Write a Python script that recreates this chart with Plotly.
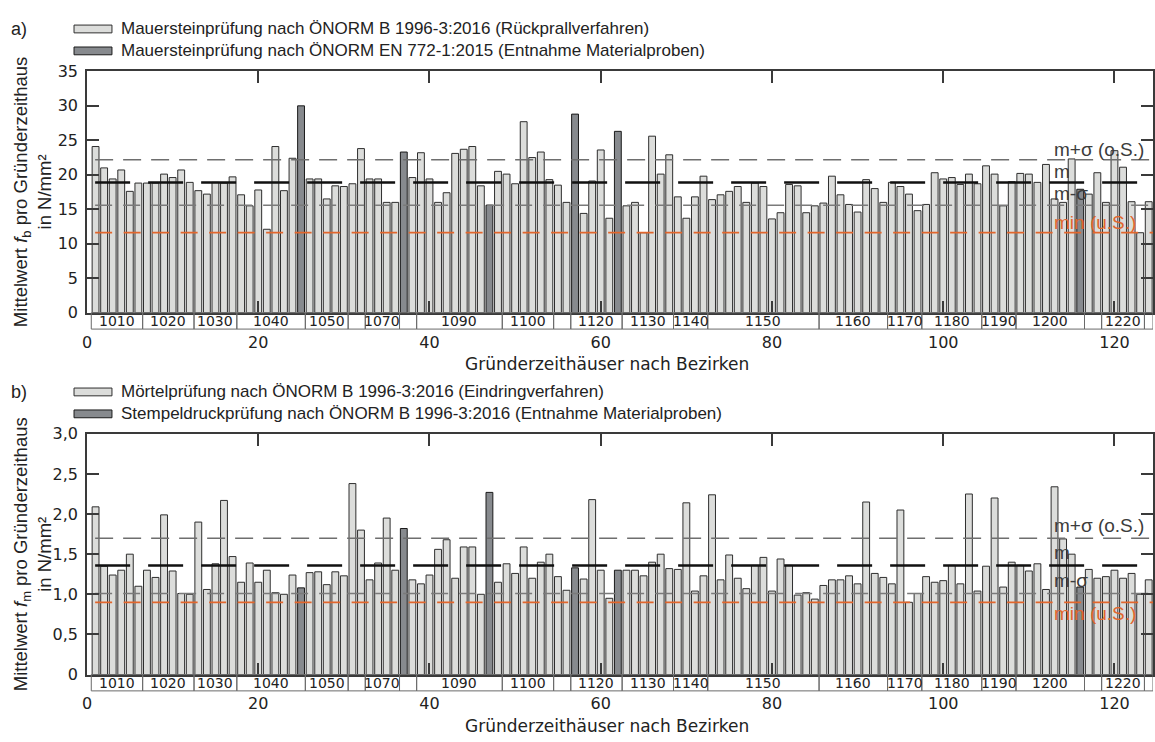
import plotly.graph_objects as go

W, H = 1155, 742
ML, MR = 87, 0
FONT = "Liberation Sans, Arial, sans-serif"
WIDE = "DejaVu Sans, sans-serif"

# ---------------- data ----------------
houses = list(range(1, 125))

districts = ["1010", "1020", "1030", "1040", "1050", "1060", "1070", "1080", "1090", "1100",
             "1110", "1120", "1130", "1140", "1150", "1160", "1170", "1180", "1190", "1200",
             "1210", "1220", "1230"]
district_counts = [6, 6, 5, 8, 5, 2, 4, 2, 10, 6, 2, 6, 6, 4, 13, 8, 4, 7, 4, 8, 2, 5, 1]
district_shown = [True, True, True, True, True, False, True, False, True, True,
                  False, True, True, True, True, True, True, True, True, True,
                  False, True, False]

# houses tested by extracting material samples (dark bars)
sampled_houses = [25, 37, 47, 57, 62, 116]

fb_values = [24.1, 21.0, 19.4, 20.7, 17.6, 18.8, 18.8, 18.8, 20.1, 19.6,
             20.7, 18.9, 17.7, 17.2, 18.9, 18.8, 19.7, 17.1, 15.5, 17.8,
             12.1, 24.1, 17.7, 22.4, 30.0, 19.4, 19.4, 16.5, 18.4, 18.3,
             18.7, 23.8, 19.4, 19.4, 16.0, 16.0, 23.3, 19.6, 23.2, 19.4,
             16.0, 17.4, 23.1, 23.7, 24.1, 18.4, 15.6, 20.5, 20.1, 18.7,
             27.7, 22.5, 23.3, 19.3, 18.5, 16.0, 28.8, 14.4, 19.1, 23.6,
             13.7, 26.3, 15.5, 16.0, 11.6, 25.6, 20.1, 22.9, 16.8, 13.7,
             16.8, 19.8, 16.4, 17.1, 17.6, 18.3, 16.0, 18.8, 18.3, 13.6,
             14.5, 18.6, 18.4, 14.5, 15.5, 15.9, 19.8, 17.1, 15.7, 14.6,
             19.3, 18.0, 16.0, 18.9, 18.3, 17.2, 14.8, 15.7, 20.3, 19.4,
             19.6, 18.6, 20.1, 18.7, 21.3, 20.1, 15.5, 19.0, 20.2, 20.1,
             18.9, 21.5, 16.5, 16.0, 22.3, 17.9, 17.2, 20.3, 16.0, 23.5,
             21.1, 16.1, 11.6, 16.1]

fm_values = [2.09, 1.35, 1.24, 1.30, 1.50, 1.10, 1.30, 1.21, 1.99, 1.29,
             1.01, 1.00, 1.90, 1.06, 1.38, 2.17, 1.47, 1.15, 1.39, 1.15,
             1.30, 1.02, 1.00, 1.24, 1.08, 1.27, 1.28, 1.12, 1.28, 1.23,
             2.38, 1.80, 1.18, 1.39, 1.95, 1.30, 1.82, 1.18, 1.13, 1.24,
             1.56, 1.68, 1.20, 1.59, 1.59, 1.00, 2.27, 1.15, 1.38, 1.26,
             1.59, 1.20, 1.40, 1.50, 1.22, 1.05, 1.33, 1.19, 2.18, 1.30,
             0.95, 1.30, 1.30, 1.30, 1.23, 1.40, 1.50, 1.32, 1.31, 2.14,
             1.04, 1.23, 2.24, 1.18, 1.49, 1.20, 1.07, 1.36, 1.46, 1.04,
             1.44, 1.36, 0.99, 1.02, 0.94, 1.11, 1.18, 1.18, 1.23, 1.13,
             2.15, 1.26, 1.21, 1.13, 2.05, 0.90, 1.01, 1.22, 1.15, 1.17,
             1.36, 1.13, 2.25, 1.04, 1.35, 2.20, 1.09, 1.40, 1.36, 1.29,
             1.38, 1.06, 2.34, 1.69, 1.50, 1.09, 1.31, 1.20, 1.22, 1.30,
             1.20, 1.26, 1.00, 1.18]

# statistics (mean, mean+/-sd, minimum)
fb_stats = {"m+σ (o.S.)": 22.2, "m": 18.9, "m-σ": 15.6, "min (u.S.)": 11.6}
fm_stats = {"m+σ (o.S.)": 1.70, "m": 1.36, "m-σ": 1.01, "min (u.S.)": 0.90}

fb_ticks = [0, 5, 10, 15, 20, 25, 30, 35]
fb_ticktext = ["0", "5", "10", "15", "20", "25", "30", "35"]
fm_ticks = [0, 0.5, 1.0, 1.5, 2.0, 2.5, 3.0]
fm_ticktext = ["0", "0,5", "1,0", "1,5", "2,0", "2,5", "3,0"]
x_ticks = [0, 20, 40, 60, 80, 100, 120]

legend_a = ["Mauersteinprüfung nach ÖNORM B 1996-3:2016 (Rückprallverfahren)",
            "Mauersteinprüfung nach ÖNORM EN 772-1:2015 (Entnahme Materialproben)"]
legend_b = ["Mörtelprüfung nach ÖNORM B 1996-3:2016 (Eindringverfahren)",
            "Stempeldruckprüfung nach ÖNORM B 1996-3:2016 (Entnahme Materialproben)"]

# ---------------- styling ----------------
LIGHT = "#dcdddb"
DARK = "#878a8e"
EDGE = "#2e2e2e"
AXC = "#3a3a3a"
TXT = "#222222"
ORANGE = "#e2662c"


def py(px):
    return 1 - px / H


def px_x(px):
    return (px - ML) / (W - ML - MR)


fig = go.Figure()

panels = [
    dict(vals=fb_values, stats=fb_stats, xa="x", ya="y", top=64, bot=311.7,
         rng=[0, 35], legend=legend_a, tag="a)",
         ytitle="Mittelwert <i>f</i><sub>b</sub> pro Gründerzeithaus<br>in N/mm²",
         leg_y=[20.5, 43],
         lab_off={"m+σ (o.S.)": -10, "m": -11, "m-σ": -12, "min (u.S.)": -10}),
    dict(vals=fm_values, stats=fm_stats, xa="x2", ya="y2", top=436, bot=683,
         rng=[0, 3.0], legend=legend_b, tag="b)",
         ytitle="Mittelwert <i>f</i><sub>m</sub> pro Gründerzeithaus<br>in N/mm²",
         leg_y=[393, 415.5],
         lab_off={"m+σ (o.S.)": -13, "m": -13, "m-σ": -13, "min (u.S.)": 11}),
]

shapes = []
annotations = []
XMAX = 124.5

line_styles = {
    "m+σ (o.S.)": dict(color="#6e6e6e", width=1.5, dash="18px,10px"),
    "m": dict(color="#111111", width=2.5, dash="35px,18px"),
    "m-σ": dict(color="#7a7a7a", width=1.5, dash="17px,11px"),
    "min (u.S.)": dict(color=ORANGE, width=1.8, dash="17px,11.5px"),
}

for p in panels:
    vals = p["vals"]
    light_y = [None if h in sampled_houses else v for h, v in zip(houses, vals)]
    dark_y = [v if h in sampled_houses else None for h, v in zip(houses, vals)]
    fig.add_trace(go.Bar(x=houses, y=light_y, xaxis=p["xa"], yaxis=p["ya"], width=0.8,
                         marker=dict(color=LIGHT, line=dict(color=EDGE, width=1)),
                         showlegend=False, hoverinfo="x+y"))
    fig.add_trace(go.Bar(x=houses, y=dark_y, xaxis=p["xa"], yaxis=p["ya"], width=0.8,
                         marker=dict(color=DARK, line=dict(color="#1a1a1a", width=1)),
                         showlegend=False, hoverinfo="x+y"))
    st = p["stats"]
    for name, val in st.items():
        fig.add_trace(go.Scatter(x=[0.95, XMAX], y=[val, val], mode="lines",
                                 xaxis=p["xa"], yaxis=p["ya"], line=line_styles[name],
                                 showlegend=False, hoverinfo="skip"))
    # stat labels
    scale = (p["bot"] - p["top"]) / (p["rng"][1] - p["rng"][0])
    for name, val in st.items():
        ypx = p["bot"] - val * scale + p["lab_off"][name]
        annotations.append(dict(x=px_x(1054), y=py(ypx), xref="paper", yref="paper",
                                text=name, showarrow=False, xanchor="left", yanchor="middle",
                                font=dict(size=19, family=FONT,
                                          color=ORANGE if name.startswith("min") else "#3c3c3c")))
    # district row
    row_top, row_bot = py(p["bot"]), py(p["bot"] + 16.8)
    start = 0.5
    for d, c, show in zip(districts, district_counts, district_shown):
        x0, x1 = start, start + c
        shapes.append(dict(type="rect", xref=p["xa"], yref="paper", x0=x0, x1=min(x1, XMAX),
                           y0=row_bot, y1=row_top, line=dict(color="#6a6a6a", width=1),
                           fillcolor="rgba(0,0,0,0)"))
        if show:
            annotations.append(dict(x=(x0 + x1) / 2, y=(row_top + row_bot) / 2, xref=p["xa"],
                                    yref="paper", text=d, showarrow=False,
                                    font=dict(size=14, color=TXT, family=WIDE),
                                    xanchor="center", yanchor="middle"))
        start = x1
    # x title
    annotations.append(dict(x=px_x(608), y=py(p["bot"] + 53), xref="paper", yref="paper",
                            text="Gründerzeithäuser nach Bezirken", showarrow=False,
                            font=dict(size=17, color=TXT, family=WIDE),
                            xanchor="center", yanchor="middle"))
    # y title
    annotations.append(dict(x=px_x(32), y=py((p["top"] + p["bot"]) / 2), xref="paper",
                            yref="paper", text=p["ytitle"], showarrow=False, textangle=-90,
                            font=dict(size=18.5, color=TXT, family=FONT),
                            xanchor="center", yanchor="middle"))
    # panel tag
    annotations.append(dict(x=px_x(9), y=py(p["leg_y"][0]), xref="paper", yref="paper",
                            text=p["tag"], showarrow=False, xanchor="left", yanchor="middle",
                            font=dict(size=18, color=TXT, family=FONT)))
    # legend
    for i, (txt, col, edge) in enumerate(zip(p["legend"], [LIGHT, DARK], [EDGE, "#1a1a1a"])):
        yc = p["leg_y"][i]
        shapes.append(dict(type="rect", xref="paper", yref="paper",
                           x0=px_x(74), x1=px_x(112), y0=py(yc + 4), y1=py(yc - 4),
                           fillcolor=col, line=dict(color=edge, width=1)))
        annotations.append(dict(x=px_x(119), y=py(yc), xref="paper", yref="paper", text=txt,
                                showarrow=False, xanchor="left", yanchor="middle",
                                font=dict(size=17, color=TXT, family=FONT)))

axis_common = dict(showline=True, linecolor=AXC, linewidth=1.5, mirror="ticks",
                   ticks="inside", tickcolor=AXC, tickwidth=1.5, ticklen=12,
                   showgrid=False, zeroline=False,
                   tickfont=dict(size=16, color=TXT, family=WIDE))

fig.update_layout(
    width=W, height=H,
    margin=dict(l=ML, r=MR, t=0, b=0),
    paper_bgcolor="white", plot_bgcolor="white",
    barmode="overlay",
    font=dict(family=FONT, color=TXT),
    showlegend=False,
    xaxis=dict(domain=[0, 1], anchor="y", range=[0, XMAX], tickvals=x_ticks,
               ticklabelstandoff=14, **axis_common),
    yaxis=dict(domain=[py(panels[0]["bot"]), py(panels[0]["top"])], anchor="x",
               range=panels[0]["rng"], tickvals=fb_ticks, ticktext=fb_ticktext,
               ticklabelstandoff=4, **axis_common),
    xaxis2=dict(domain=[0, 1], anchor="y2", range=[0, XMAX], tickvals=x_ticks,
                ticklabelstandoff=14, **axis_common),
    yaxis2=dict(domain=[py(panels[1]["bot"]), py(panels[1]["top"])], anchor="x2",
                range=panels[1]["rng"], tickvals=fm_ticks, ticktext=fm_ticktext,
                ticklabelstandoff=4, **axis_common),
    shapes=shapes,
    annotations=annotations,
)

fig.write_html("out.html")
